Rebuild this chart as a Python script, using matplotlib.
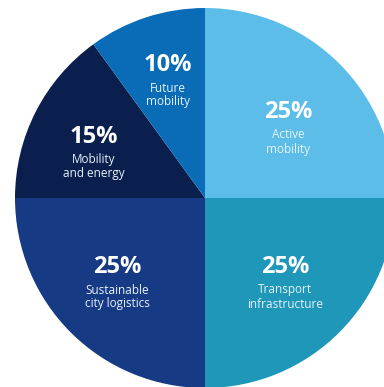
import matplotlib
matplotlib.use("Agg")
import matplotlib.pyplot as plt

labels = ["Active\nmobility", "Transport\ninfrastructure", "Sustainable\ncity logistics",
          "Mobility\nand energy", "Future\nmobility"]
shares = [25, 25, 25, 15, 10]
colors = ["#5cbde9", "#1e97b8", "#173a84", "#0b1f4f", "#0a6bb6"]

# label anchor points (pixels, from top-left)
label_pos = [(288, 112), (285, 267), (117, 267), (94, 137), (168, 65)]

W, H = 384, 387
fig = plt.figure(figsize=(W / 100, H / 100), dpi=100)
ax = fig.add_axes([0, 0, 1, 1])
ax.pie(shares, colors=colors, startangle=90, counterclock=False,
       center=(205, H - 198), radius=190, frame=True,
       wedgeprops=dict(linewidth=0))
ax.set_xlim(0, W)
ax.set_ylim(0, H)
ax.set_aspect("equal")
ax.axis("off")

for lab, val, (x, y) in zip(labels, shares, label_pos):
    ax.text(x, H - y, f"{val}%", ha="center", va="center", color="white",
            fontsize=17, fontweight="bold", family="Open Sans")
    ax.text(x, H - y - 30, lab, ha="center", va="center", color="#e6f2fa",
            fontsize=8.5, family="Open Sans", linespacing=1.1)

fig.savefig("out.png", dpi=100)
